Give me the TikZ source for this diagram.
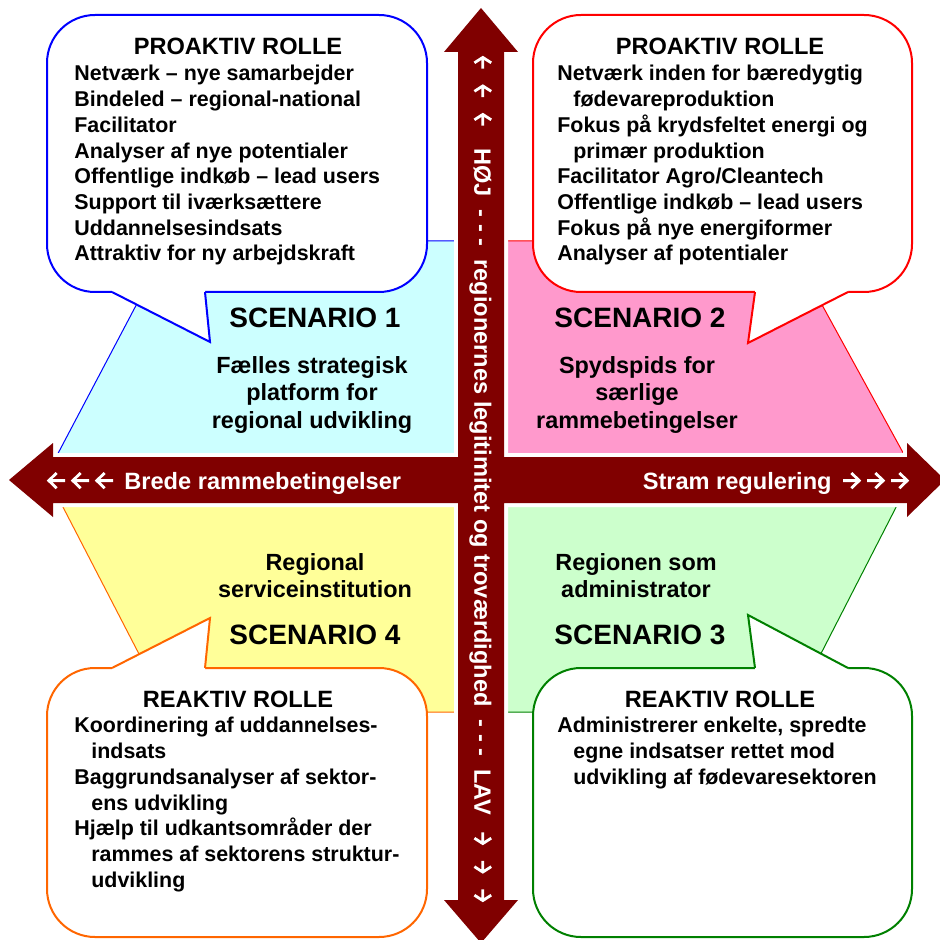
\documentclass[tikz,border=0pt]{standalone}
\usepackage{fontspec}
\setmainfont{Liberation Sans}
\definecolor{axisred}{HTML}{800000}
\definecolor{sccyan}{HTML}{CCFFFF}
\definecolor{scpink}{HTML}{FF99CC}
\definecolor{scyellow}{HTML}{FFFF99}
\definecolor{scgreen}{HTML}{CCFFCC}
\definecolor{lineorange}{HTML}{FF6600}
\definecolor{linegreen}{HTML}{008000}
% small arrow glyphs in the axis labels: length, head length, head half height
\newcommand{\leftglyph}[3]{\tikz[reset cm, x=1pt, y=1pt, baseline=-4.2pt]\draw[white, line width=1.4pt] (#2,#3) -- (0.9,0) -- (#2,-#3) (0.9,0) -- (#1,0);}
\newcommand{\rightglyph}[3]{\tikz[reset cm, x=1pt, y=1pt, baseline=-4.2pt]\draw[white, line width=1.4pt] (#1-#2,#3) -- (#1-0.9,0) -- (#1-#2,-#3) (#1-0.9,0) -- (0,0);}

\begin{document}
\begin{tikzpicture}[x=0.5pt, y=-0.5pt,
	quad/.style={line width=0.5pt},
	bubble/.style={fill=white, line width=1pt, rounded corners=24pt},
	tail/.style={line width=1pt, line join=miter},
	role/.style={font=\fontsize{11.8}{14}\selectfont\bfseries, anchor=base, inner sep=0pt},
	items/.style={font=\fontsize{10.7}{12.85}\selectfont\bfseries, align=left, anchor=north west, inner sep=0pt},
	scen/.style={font=\fontsize{14}{16}\selectfont\bfseries, anchor=base, inner sep=0pt},
	desc/.style={font=\fontsize{11.7}{13.75}\selectfont\bfseries, align=center, anchor=north, inner sep=0pt},
	axis/.style={font=\fontsize{11.8}{14}\selectfont\bfseries, text=white, inner sep=0pt}]

	\useasboundingbox (0,0) rectangle (939,940);

	% scenario fields
	\filldraw[quad, fill=sccyan, draw=blue] (170,241) -- (481,241) -- (481,480) -- (44,480) -- cycle;
	\filldraw[quad, fill=scpink, draw=red] (481,241) -- (787,241) -- (918,480) -- (481,480) -- cycle;
	\filldraw[quad, fill=scyellow, draw=lineorange] (49,480) -- (481,480) -- (481,712) -- (169,712) -- cycle;
	\filldraw[quad, fill=scgreen, draw=linegreen] (481,480) -- (910,480) -- (791,712) -- (481,712) -- cycle;

	% the two axes as one cross
	\fill[axisred, preaction={draw=white, line width=4pt}] (481,8) -- (518,52) -- (504,52) -- (504,457) -- (907,457) -- (907,443) -- (945,480) -- (907,517) -- (907,503) -- (504,503) -- (504,900) -- (518,900) -- (481,943) -- (444,900) -- (458,900) -- (458,503) -- (53,503) -- (53,517) -- (9,480) -- (53,443) -- (53,457) -- (458,457) -- (458,52) -- (444,52) -- cycle;

	\node[axis, anchor=base west] (west) at (47,489) {\leftglyph{9}{4.8}{3.8}\kern2.5pt\leftglyph{9}{4.8}{3.8}\kern2.5pt\leftglyph{9}{4.8}{3.8}\hspace{5pt}Brede rammebetingelser};
	\node[axis, anchor=base east] (east) at (909,489) {Stram regulering\hspace{5pt}\rightglyph{9}{4.8}{3.8}\kern2.5pt\rightglyph{9}{4.8}{3.8}\kern2.5pt\rightglyph{9}{4.8}{3.8}};
	\node[axis, rotate=-90] (north) at (481,479) {\leftglyph{6.5}{3.6}{4.2}\kern7.25pt\leftglyph{6.5}{3.6}{4.2}\kern7.25pt\leftglyph{6.5}{3.6}{4.2}\hspace{10.5pt}HØJ\ \ -\ -\ -\ \ regionernes legitimitet og troværdighed\ \ -\ -\ -\ \ LAV\hspace{8pt}\rightglyph{6.5}{3.6}{4.2}\kern7.25pt\rightglyph{6.5}{3.6}{4.2}\kern7.25pt\rightglyph{6.5}{3.6}{4.2}};

	% callouts
	\draw[bubble, draw=blue] (47,15) rectangle (427,292);
	\fill[white] (112,289) -- (112,292) -- (210,342) -- (205,292) -- (205,289) -- cycle;
	\draw[tail, draw=blue] (112,292) -- (210,342) -- (205,292);

	\draw[bubble, draw=red] (533,15) rectangle (912,292);
	\fill[white] (755,289) -- (755,292) -- (748,343) -- (848,292) -- (848,289) -- cycle;
	\draw[tail, draw=red] (755,292) -- (748,343) -- (848,292);

	\draw[bubble, draw=lineorange] (47,668) rectangle (427,937);
	\fill[white] (112,671) -- (112,668) -- (210,618) -- (205,668) -- (205,671) -- cycle;
	\draw[tail, draw=lineorange] (112,668) -- (210,618) -- (205,668);

	\draw[bubble, draw=linegreen] (533,668) rectangle (912,937);
	\fill[white] (755,671) -- (755,668) -- (748,615) -- (848,668) -- (848,671) -- cycle;
	\draw[tail, draw=linegreen] (755,668) -- (748,615) -- (848,668);

	\node[role] (role1) at (238,55) {PROAKTIV ROLLE};
	\node[items] (list1) at (74,65) {Netværk – nye samarbejder\\Bindeled – regional-national\\Facilitator\\Analyser af nye potentialer\\Offentlige indkøb – lead users\\Support til iværksættere\\Uddannelsesindsats\\Attraktiv for ny arbejdskraft};

	\node[role] (role2) at (720,55) {PROAKTIV ROLLE};
	\node[items] (list2) at (557,65) {Netværk inden for bæredygtig\\\hspace*{8pt}fødevareproduktion\\Fokus på krydsfeltet energi og\\\hspace*{8pt}primær produktion\\Facilitator Agro/Cleantech\\Offentlige indkøb – lead users\\Fokus på nye energiformer\\Analyser af potentialer};

	\node[role] (role4) at (238,707) {REAKTIV ROLLE};
	\node[items] (list4) at (74,717) {Koordinering af uddannelses-\\\hspace*{8.5pt}indsats\\Baggrundsanalyser af sektor-\\\hspace*{8.5pt}ens udvikling\\Hjælp til udkantsområder der\\\hspace*{8.5pt}rammes af sektorens struktur-\\\hspace*{8.5pt}udvikling};

	\node[role] (role3) at (720,707) {REAKTIV ROLLE};
	\node[items] (list3) at (557,717) {Administrerer enkelte, spredte\\\hspace*{8pt}egne indsatser rettet mod\\\hspace*{8pt}udvikling af fødevaresektoren};

	% scenario names
	\node[scen] (sc1) at (315,328) {SCENARIO 1};
	\node[desc] (d1) at (312,356) {Fælles strategisk\\platform for\\regional udvikling};
	\node[scen] (sc2) at (640,328) {SCENARIO 2};
	\node[desc] (d2) at (637,356) {Spydspids for\\særlige\\rammebetingelser};
	\node[desc] (d4) at (315,553) {Regional\\serviceinstitution};
	\node[scen] (sc4) at (315,644) {SCENARIO 4};
	\node[desc] (d3) at (636,553) {Regionen som\\administrator};
	\node[scen] (sc3) at (640,644) {SCENARIO 3};
\end{tikzpicture}
\end{document}
